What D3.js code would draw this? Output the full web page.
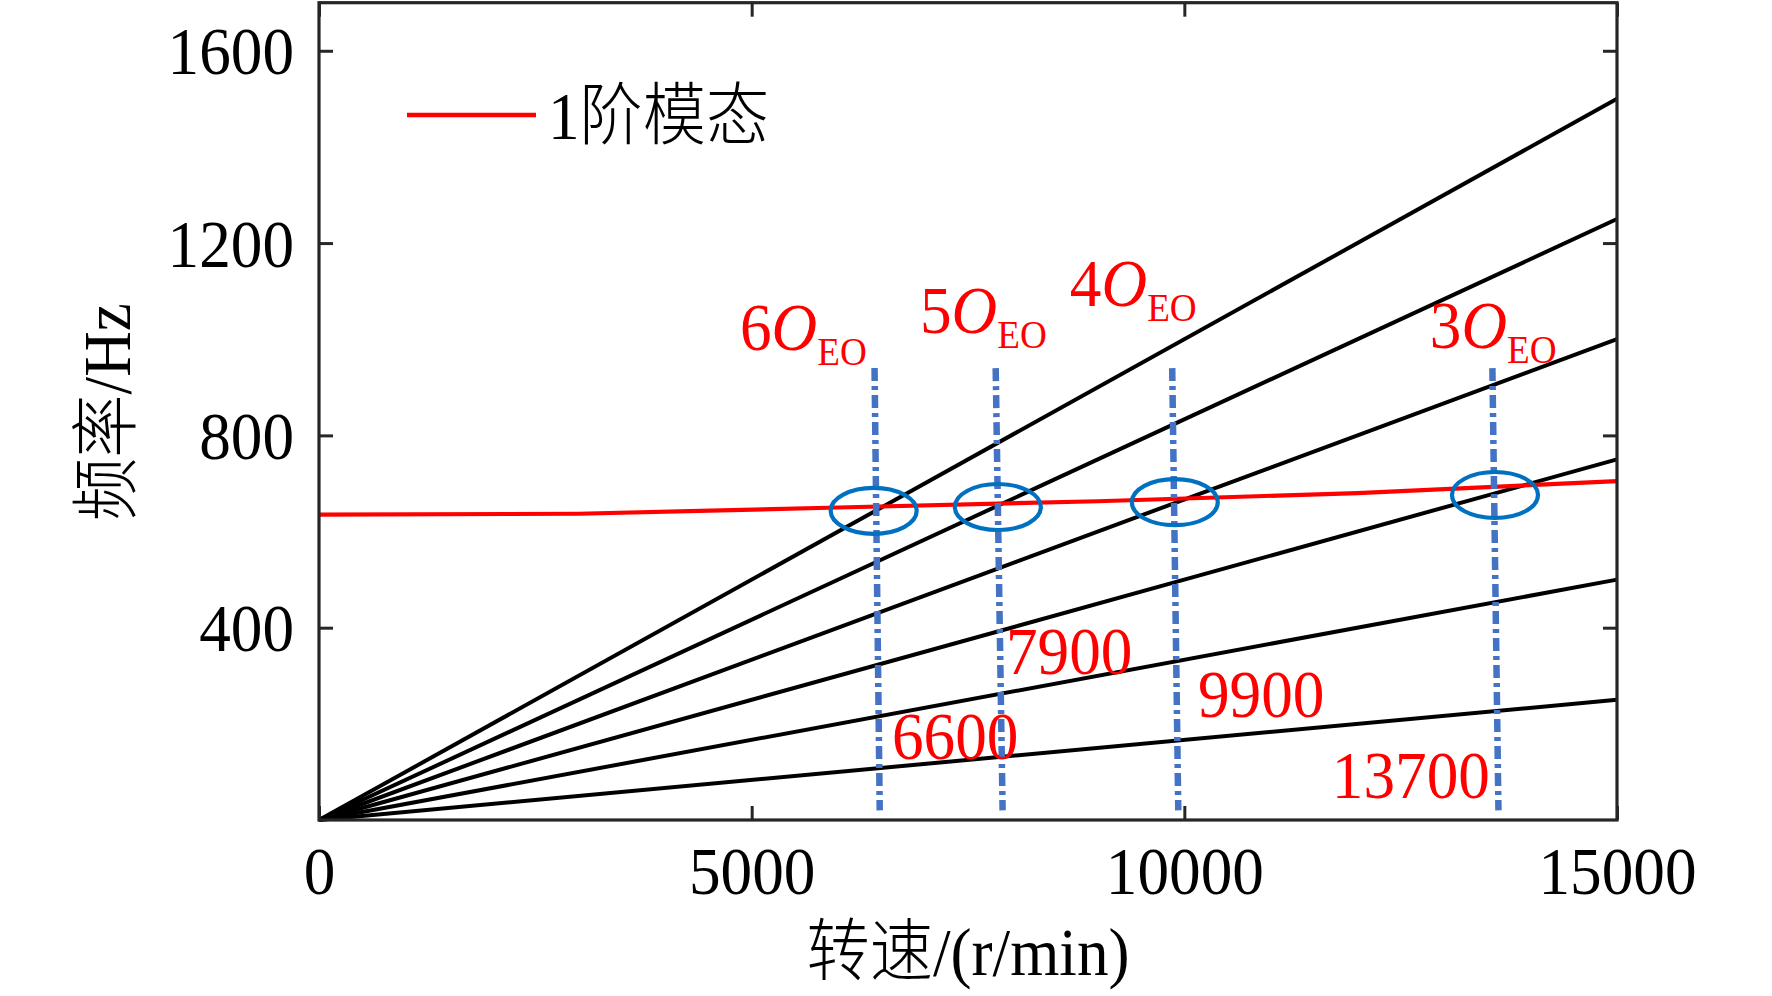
<!DOCTYPE html>
<html>
<head>
<meta charset="utf-8">
<script src="https://cdn.jsdelivr.net/npm/d3@7"></script>
<style>
  body { margin: 0; background: #fff; }
  svg { display: block; }
  text { font-family: "Liberation Serif", "Noto Sans CJK SC", serif; }
</style>
</head>
<body>
<div id="chart"></div>
<script>
// Campbell diagram: engine orders vs 1st mode
const xTicks = [0, 5000, 10000, 15000];
const yTicks = [400, 800, 1200, 1600];

// engine order lines, frequency reached at 15000 r/min
const orderEndHz = [250, 500, 750, 1000, 1250, 1500];

// 1st mode frequency
const modeRpm = [0, 3000, 6000, 9000, 12000, 15000];
const modeHz = [635, 637, 650, 663, 680, 705];

// circled crossings (rpm, Hz)
const crossRpm = [6410, 7845, 9890, 13590];
const crossHz = [643, 651, 661, 676];

// dash-dot markers: rpm at top / bottom, span in Hz
const markTopRpm = [6420, 7820, 9860, 13560];
const markBotRpm = [6480, 7900, 9930, 13630];
const markTopHz = 940;
const markBotHz = 20;

// order labels (n O_EO) and their anchors
const orderLabels = ["6", "5", "4", "3"];
const orderLabelRpm = [4864, 6944, 8677, 12837];
const orderLabelHz = [978, 1013, 1069, 982];

// speed labels and anchors
const speedLabels = ["6600", "7900", "9900", "13700"];
const speedLabelRpm = [6621, 7938, 10157, 11705];
const speedLabelHz = [127, 304, 214, 46];

const W = 1772, H = 996;
const svg = d3.select("#chart").append("svg")
    .attr("width", W)
    .attr("height", H);

const x = d3.scaleLinear().domain([0, 15000]).range([319, 1617]);
const y = d3.scaleLinear().domain([0, 1700]).range([820, 2.7]);

const FS = 68;      // font size, glyphs squeezed horizontally
const SQ = 0.93;

// place a text at (px, py) with the narrow look of the original
function squeeze(sel, px, py) {
    sel.attr("x", 0).attr("y", 0)
        .attr("transform", (d, i) => {
            const a = typeof px === "function" ? px(d, i) : px;
            const b = typeof py === "function" ? py(d, i) : py;
            return `translate(${a},${b}) scale(${SQ},1)`;
        });
}

// order lines
const line = d3.line().x(d => x(d[0])).y(d => y(d[1]));
svg.append("g").selectAll("path")
    .data(orderEndHz)
    .join("path")
    .attr("d", v => line([[0, 0], [15000, v]]))
    .attr("fill", "none")
    .attr("stroke", "#000")
    .attr("stroke-width", 4);

// 1st mode
svg.append("path")
    .datum(modeRpm.map((r, i) => [r, modeHz[i]]))
    .attr("d", line)
    .attr("fill", "none")
    .attr("stroke", "#ff0000")
    .attr("stroke-width", 4.2);

// dash-dot markers
svg.append("g").selectAll("line")
    .data(markTopRpm)
    .join("line")
    .attr("x1", d => x(d))
    .attr("y1", y(markTopHz))
    .attr("x2", (d, i) => x(markBotRpm[i]))
    .attr("y2", y(markBotHz))
    .attr("stroke", "#4472c4")
    .attr("stroke-width", 6.5)
    .attr("stroke-dasharray", "13 5 4 5");

// ellipses
svg.append("g").selectAll("ellipse")
    .data(crossRpm)
    .join("ellipse")
    .attr("cx", d => x(d))
    .attr("cy", (d, i) => y(crossHz[i]))
    .attr("rx", 43)
    .attr("ry", 23)
    .attr("fill", "none")
    .attr("stroke", "#0070c0")
    .attr("stroke-width", 4.2);

// order labels
const ol = svg.append("g").selectAll("text")
    .data(orderLabels)
    .join("text")
    .attr("fill", "#ff0000")
    .attr("font-size", FS)
    .call(squeeze, (d, i) => x(orderLabelRpm[i]), (d, i) => y(orderLabelHz[i]));
ol.append("tspan").text(d => d);
ol.append("tspan").attr("font-style", "italic").text("O");
ol.append("tspan").attr("font-size", 40).attr("dy", 15).text("EO");

// speed labels
svg.append("g").selectAll("text")
    .data(speedLabels)
    .join("text")
    .attr("fill", "#ff0000")
    .attr("font-size", FS)
    .call(squeeze, (d, i) => x(speedLabelRpm[i]), (d, i) => y(speedLabelHz[i]))
    .text(d => d);

// axes
const axisColor = "#262626";
function styleAxis(g, labels) {
    g.select(".domain").remove();
    g.selectAll(".tick line").attr("stroke", axisColor).attr("stroke-width", 3);
    g.selectAll(".tick text")
        .attr("fill", "#000")
        .attr("font-size", FS)
        .attr("font-family", "Liberation Serif, serif");
    if (!labels) g.selectAll(".tick text").remove();
}

svg.append("g")
    .attr("transform", `translate(0,${y(0)})`)
    .call(d3.axisBottom(x).tickValues(xTicks).tickSize(-14).tickPadding(26).tickFormat(d3.format("d")))
    .call(g => styleAxis(g, true))
    .call(g => g.selectAll(".tick text").attr("transform", `scale(${SQ},1)`));

svg.append("g")
    .attr("transform", `translate(0,${y(1700)})`)
    .call(d3.axisTop(x).tickValues(xTicks).tickSize(-14))
    .call(g => styleAxis(g, false));

svg.append("g")
    .attr("transform", `translate(${x(0)},0)`)
    .call(d3.axisLeft(y).tickValues(yTicks).tickSize(-14).tickPadding(25).tickFormat(d3.format("d")))
    .call(g => styleAxis(g, true))
    .call(g => g.selectAll(".tick text")
        .attr("dy", "0.34em")
        .call(squeeze, -25, 0));

svg.append("g")
    .attr("transform", `translate(${x(15000)},0)`)
    .call(d3.axisRight(y).tickValues(yTicks).tickSize(-14))
    .call(g => styleAxis(g, false));

// frame
svg.append("rect")
    .attr("x", x(0))
    .attr("y", y(1700))
    .attr("width", x(15000) - x(0))
    .attr("height", y(0) - y(1700))
    .attr("fill", "none")
    .attr("stroke", axisColor)
    .attr("stroke-width", 3.2);

// axis titles
svg.append("text")
    .attr("text-anchor", "middle")
    .attr("font-size", FS)
    .attr("font-weight", 300)
    .call(squeeze, (x(0) + x(15000)) / 2, 975)
    .text("转速/(r/min)");

svg.append("text")
    .attr("transform", `translate(130,412) rotate(-90) scale(${SQ},1)`)
    .attr("text-anchor", "middle")
    .attr("font-size", FS)
    .attr("font-weight", 300)
    .text("频率/Hz");

// legend
svg.append("line")
    .attr("x1", 407).attr("x2", 536)
    .attr("y1", 115).attr("y2", 115)
    .attr("stroke", "#ff0000")
    .attr("stroke-width", 4.5);
svg.append("text")
    .attr("font-size", FS)
    .attr("font-weight", 300)
    .call(squeeze, 548, 139)
    .text("1阶模态");
</script>
</body>
</html>
